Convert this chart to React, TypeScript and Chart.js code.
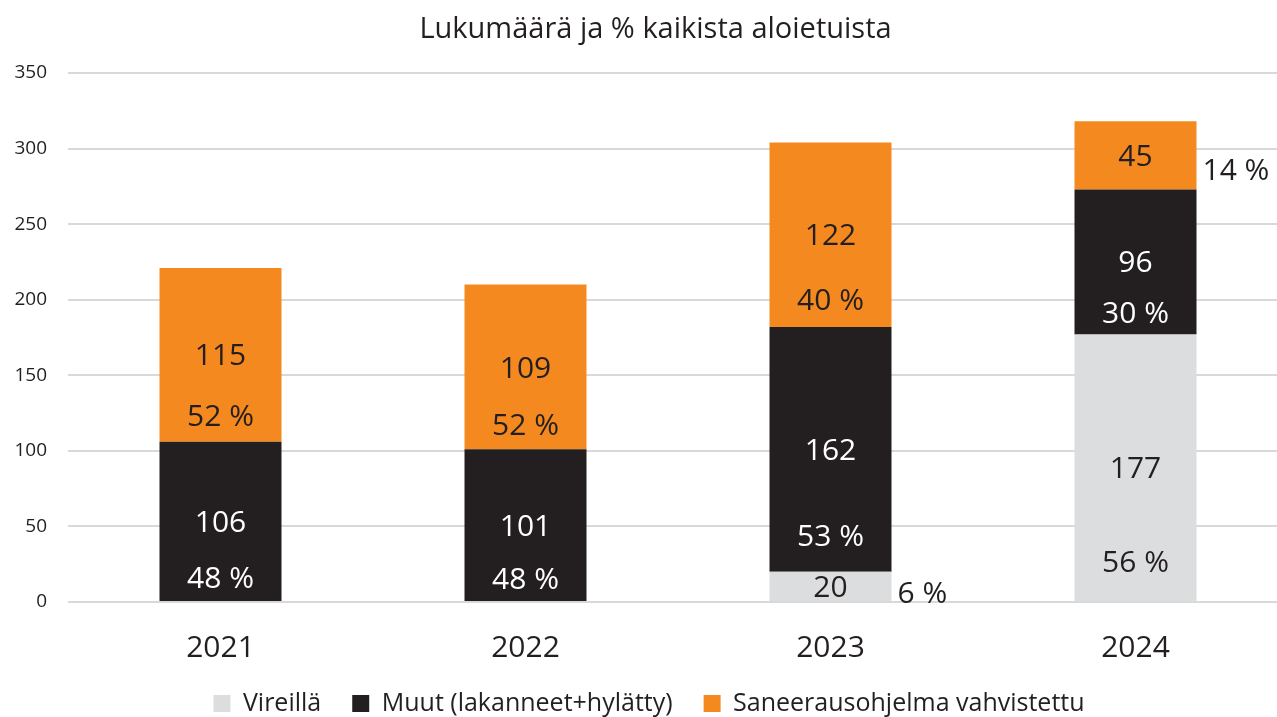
import React, { useEffect, useRef } from 'react';
import { Chart, registerables } from 'chart.js';

Chart.register(...registerables);

const years = ['2021', '2022', '2023', '2024'];
const vireilla = [0, 0, 20, 177];
const muut = [106, 101, 162, 96];
const saneeraus = [115, 109, 122, 45];
const vireillaPct = [0, 0, 6, 56];
const muutPct = [48, 48, 53, 30];
const saneerausPct = [52, 52, 40, 14];
const seriesNames = ['Vireillä', 'Muut (lakanneet+hylätty)', 'Saneerausohjelma vahvistettu'];
const chartTitle = 'Lukumäärä ja % kaikista aloietuista';
const yMax = 350;
const yStep = 50;

const FONT = "'Open Sans', sans-serif";
const TEXT = '#231f20';
const COLORS = ['#dcdddf', '#231f20', '#f4891f'];

const titlePlugin = {
  id: 'centeredTitle',
  afterDraw(chart: any) {
    const ctx = chart.ctx;
    ctx.save();
    ctx.font = `29px ${FONT}`;
    ctx.fillStyle = TEXT;
    ctx.textAlign = 'center';
    ctx.textBaseline = 'middle';
    ctx.fillText(chartTitle, chart.width / 2 + 11.5, 29.6);
    ctx.restore();
  },
};

const segmentLabels = {
  id: 'segmentLabels',
  afterDatasetsDraw(chart: any) {
    const ctx = chart.ctx;
    const pcts = [vireillaPct, muutPct, saneerausPct];
    const textColors = [TEXT, '#ffffff', TEXT];
    ctx.save();
    ctx.font = `30px ${FONT}`;
    ctx.textBaseline = 'middle';
    chart.data.datasets.forEach((ds: any, di: number) => {
      const meta = chart.getDatasetMeta(di);
      meta.data.forEach((bar: any, i: number) => {
        const v = ds.data[i];
        if (!v) return;
        const { x, y, base, width } = bar.getProps(['x', 'y', 'base', 'width'], true);
        const h = base - y;
        const cy = (y + base) / 2;
        ctx.fillStyle = textColors[di];
        ctx.textAlign = 'center';
        ctx.fillText(String(v), x, cy + 2);
        const pctText = `${pcts[di][i]} %`;
        if (v < 50) {
          ctx.fillStyle = TEXT;
          ctx.textAlign = 'left';
          ctx.fillText(pctText, x + width / 2 + 6, cy + 0.2 * h + 2);
        } else {
          ctx.fillText(pctText, x, base - 0.15 * h + 2);
        }
      });
    });
    ctx.restore();
  },
};

export default function App() {
  const canvasRef = useRef<HTMLCanvasElement | null>(null);

  useEffect(() => {
    document.documentElement.style.overflow = 'hidden';
    document.body.style.overflow = 'hidden';
    const canvas = canvasRef.current;
    if (!canvas) return;
    const chart = new Chart(canvas, {
      type: 'bar',
      data: {
        labels: years,
        datasets: [
          { label: seriesNames[0], data: vireilla, backgroundColor: COLORS[0], borderWidth: 0 },
          { label: seriesNames[1], data: muut, backgroundColor: COLORS[1], borderWidth: 0 },
          { label: seriesNames[2], data: saneeraus, backgroundColor: COLORS[2], borderWidth: 0 },
        ],
      },
      options: {
        animation: false,
        responsive: false,
        devicePixelRatio: 1,
        layout: { padding: { left: 10, right: 0, top: 73, bottom: 0 } },
        datasets: { bar: { barPercentage: 0.4, categoryPercentage: 1 } },
        plugins: {
          title: { display: false },
          legend: {
            position: 'bottom',
            labels: {
              color: TEXT,
              font: { family: FONT, size: 25 },
              boxWidth: 17,
              boxHeight: 17,
              padding: 31,
            },
          },
          tooltip: { enabled: false },
        },
        scales: {
          x: {
            stacked: true,
            grid: { display: false, drawTicks: false },
            border: { display: false },
            ticks: { color: TEXT, font: { family: FONT, size: 30 }, padding: 28 },
            afterFit: (s: any) => {
              s.height = 58;
            },
          },
          y: {
            stacked: true,
            min: 0,
            max: yMax,
            ticks: { stepSize: yStep, color: TEXT, font: { family: FONT, size: 19 }, padding: 21 },
            grid: { color: '#d9d9d9', lineWidth: 2, drawTicks: false },
            border: { display: false },
            afterFit: (s: any) => {
              s.width = 58;
            },
          },
        },
      } as any,
      plugins: [segmentLabels, titlePlugin],
    });
    return () => chart.destroy();
  }, []);

  return (
    <div style={{ position: 'absolute', left: 0, top: 0, width: 1288, height: 726, background: '#fff' }}>
      <canvas ref={canvasRef} width={1288} height={726} style={{ display: 'block', width: 1288, height: 726 }} />
    </div>
  );
}
